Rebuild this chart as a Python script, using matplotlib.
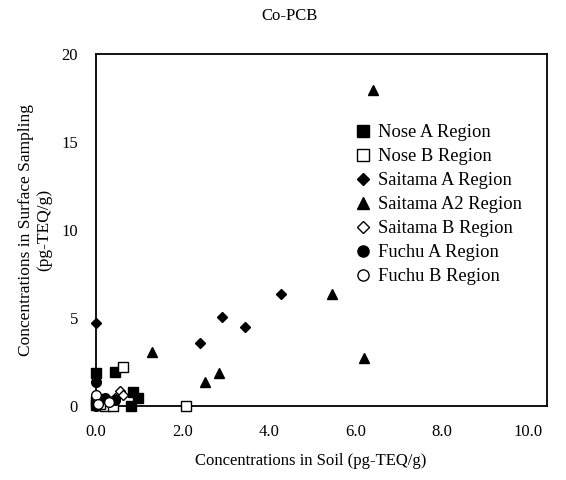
import matplotlib
matplotlib.use("Agg")
import matplotlib.pyplot as plt

plt.rcParams['font.family'] = ['Liberation Serif', 'DejaVu Serif']

nose_a_x = [0.0, 0.45, 0.85, 0.97, 0.80, 0.0, 0.0]
nose_a_y = [1.9, 1.95, 0.8, 0.45, 0.0, 0.05, 0.3]
nose_b_x = [2.08, 0.63, 0.2, 0.4, 0.1]
nose_b_y = [0.0, 2.2, 0.0, 0.0, 0.1]
saitama_a_x = [0.0, 2.41, 2.92, 3.45, 4.29]
saitama_a_y = [4.7, 3.6, 5.06, 4.5, 6.35]
saitama_a2_x = [6.41, 5.46, 1.30, 2.52, 2.85, 6.2]
saitama_a2_y = [17.95, 6.35, 3.07, 1.36, 1.875, 2.7]
saitama_b_x = [0.55, 0.62, 0.3, 0.45]
saitama_b_y = [0.86, 0.6, 0.3, 0.45]
fuchu_a_x = [0.0, 0.05, 0.2, 0.45, 0.0]
fuchu_a_y = [1.36, 0.3, 0.45, 0.35, 0.0]
fuchu_b_x = [0.0, 0.05, 0.3]
fuchu_b_y = [0.6, 0.1, 0.2]

x_ticks = [0, 2, 4, 6, 8, 10]
y_ticks = [0, 5, 10, 15, 20]

W, H = 566, 480
fig = plt.figure(figsize=(W / 100, H / 100), dpi=100)
left, right, top, bottom = 96, 547, 54, 406
ax = fig.add_axes([left / W, 1 - bottom / H, (right - left) / W, (bottom - top) / H])

series = [
    ("Nose A Region", nose_a_x, nose_a_y, 's', 'black'),
    ("Nose B Region", nose_b_x, nose_b_y, 's', 'white'),
    ("Saitama A Region", saitama_a_x, saitama_a_y, 'D', 'black'),
    ("Saitama A2 Region", saitama_a2_x, saitama_a2_y, '^', 'black'),
    ("Saitama B Region", saitama_b_x, saitama_b_y, 'D', 'white'),
    ("Fuchu A Region", fuchu_a_x, fuchu_a_y, 'o', 'black'),
    ("Fuchu B Region", fuchu_b_x, fuchu_b_y, 'o', 'white'),
]
for label, xs, ys, m, fc in series:
    ms = 5.5 if m == 'D' else 7
    ax.plot(xs, ys, linestyle='none', marker=m, markersize=ms,
            markerfacecolor=fc, markeredgecolor='black', markeredgewidth=1.0,
            label=label, clip_on=False, zorder=3)

# x range extends a little past the last labelled tick (10.0)
px_per_unit = 43.2
ax.set_xlim(0, (right - left) / px_per_unit)
ax.set_ylim(0, 20)
ax.set_xticks(x_ticks)
ax.set_xticklabels([f"{v:.1f}" for v in x_ticks])
ax.set_yticks(y_ticks)
ax.set_yticklabels([str(v) for v in y_ticks])
ax.tick_params(axis='both', length=0, labelsize=12)
ax.tick_params(axis='x', pad=13)
ax.tick_params(axis='y', pad=13)
for s in ax.spines.values():
    s.set_linewidth(1.3)
    s.set_color('black')

ax.set_xlabel("Concentrations in Soil (pg-TEQ/g)", fontsize=12)
ax.xaxis.set_label_coords((311 - left) / (right - left), -(461 - bottom) / (bottom - top))
ax.xaxis.label.set_va('center')
ax.set_ylabel("Concentrations in Surface Sampling\n(pg-TEQ/g)", fontsize=12.5)
ax.yaxis.set_label_coords(-(left - 35) / (right - left), (bottom - 230) / (bottom - top))
ax.yaxis.label.set_va('center')
fig.text(290 / W, 1 - 16 / H, "Co-PCB", ha='center', va='center', fontsize=12)

leg = ax.legend(loc='upper left', bbox_to_anchor=(354 / W, 1 - 124 / H),
                bbox_transform=fig.transFigure, frameon=False,
                fontsize=13.3, handletextpad=0.3, labelspacing=0.38, borderpad=0,
                handlelength=1.0, borderaxespad=0, markerscale=1.15)

fig.savefig("out.png", dpi=100, facecolor='white')
